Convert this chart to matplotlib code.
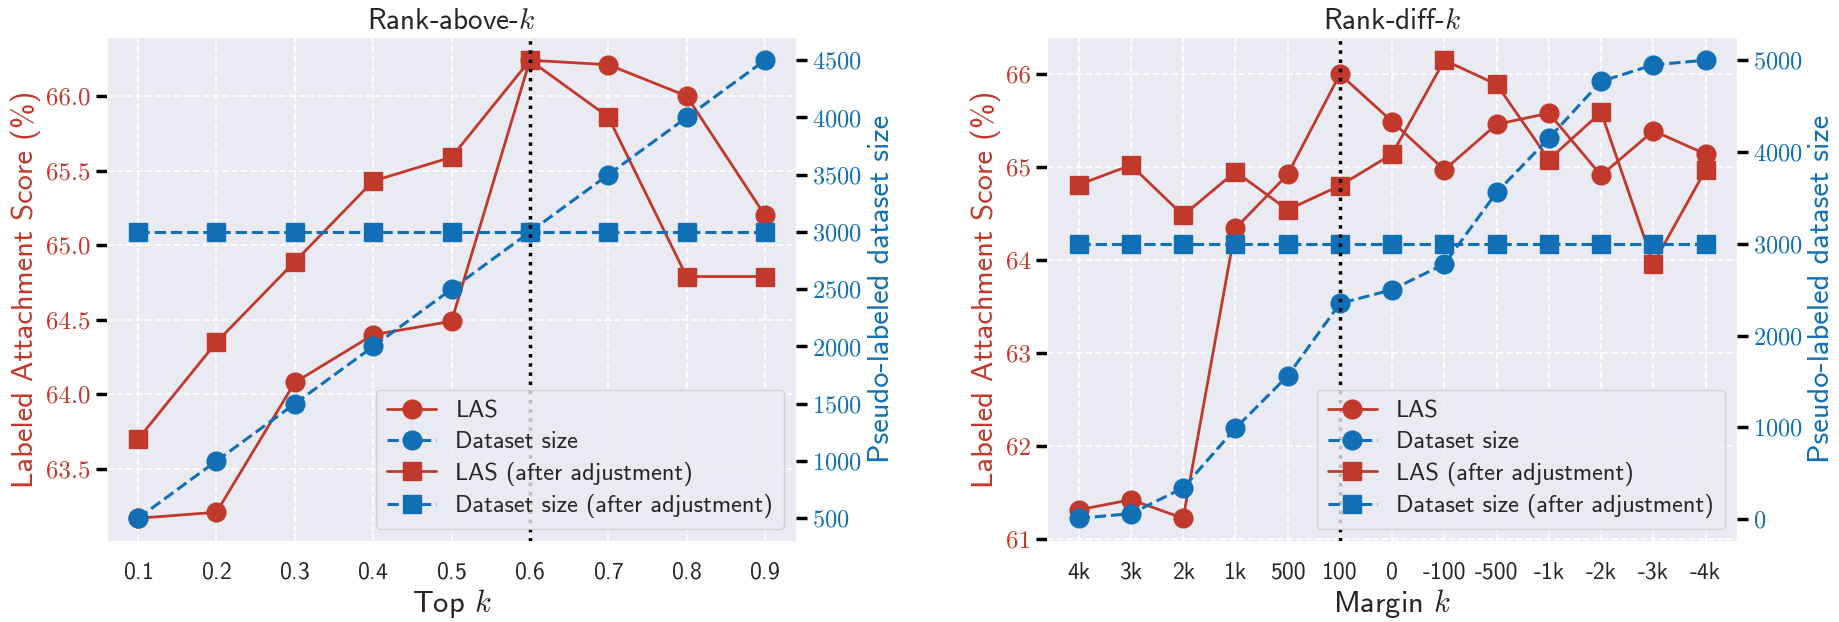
import matplotlib
matplotlib.use("Agg")
import matplotlib.pyplot as plt
import seaborn as sns
from matplotlib.ticker import MultipleLocator

# Rank-above-k
top_k = [0.1, 0.2, 0.3, 0.4, 0.5, 0.6, 0.7, 0.8, 0.9]
above_las = [63.17, 63.21, 64.08, 64.40, 64.49, 66.24, 66.21, 66.00, 65.20]
above_las_adj = [63.70, 64.35, 64.89, 65.43, 65.59, 66.24, 65.86, 64.79, 64.79]
above_size = [500, 1000, 1500, 2000, 2500, 3000, 3500, 4000, 4500]
above_size_adj = [3000, 3000, 3000, 3000, 3000, 3000, 3000, 3000, 3000]
above_best = 0.6

# Rank-diff-k
margin_k = ["4k", "3k", "2k", "1k", "500", "100", "0", "-100", "-500", "-1k", "-2k", "-3k", "-4k"]
diff_las = [61.31, 61.42, 61.22, 64.34, 64.92, 66.00, 65.49, 64.97, 65.46, 65.58, 64.91, 65.39, 65.14]
diff_las_adj = [64.81, 65.02, 64.48, 64.95, 64.54, 64.80, 65.14, 66.15, 65.89, 65.08, 65.59, 63.96, 64.97]
diff_size = [10, 60, 340, 990, 1560, 2350, 2500, 2780, 3560, 4150, 4770, 4950, 5000]
diff_size_adj = [3000] * 13
diff_best = "100"

RED = "#c0392b"
BLUE = "#1170b5"

sns.set_style("darkgrid", {"grid.linestyle": "--"})
plt.rcParams["font.family"] = ["cmss10", "DejaVu Sans"]
plt.rcParams["mathtext.fontset"] = "cm"
plt.rcParams["axes.unicode_minus"] = False
plt.rcParams["axes.formatter.use_mathtext"] = True


def draw(ax, x, las, las_adj, size, size_adj, best, title, xlabel, size_step, las_step, las_fmt):
    ax2 = ax.twinx()
    ax2.grid(False)
    l1, = ax.plot(x, las, color=RED, marker="o", ms=13.5, lw=2, label="LAS")
    l3, = ax.plot(x, las_adj, color=RED, marker="s", ms=13.5, lw=2, label="LAS (after adjustment)")
    l2, = ax2.plot(x, size, color=BLUE, marker="o", ms=13.5, lw=2.2, ls="--", label="Dataset size")
    l4, = ax2.plot(x, size_adj, color=BLUE, marker="s", ms=13.5, lw=2.2, ls="--",
                   label="Dataset size (after adjustment)")
    ax2.axvline(best, color="black", ls=":", lw=2.5)

    ax.grid(True, color="white", ls="--", lw=1.3)
    ax.yaxis.set_major_locator(MultipleLocator(las_step))
    ax2.yaxis.set_major_locator(MultipleLocator(size_step))
    ax.yaxis.set_major_formatter(plt.FuncFormatter(lambda v, p: las_fmt.format(v)))
    ax.tick_params(axis="y", colors=RED, labelsize=18, length=8, width=2.5,
                   labelfontfamily="cmr10")
    ax.tick_params(axis="y", color="black")
    ax2.tick_params(axis="y", colors=BLUE, labelsize=17.5, length=8, width=2.5,
                    labelfontfamily="cmr10")
    ax2.tick_params(axis="y", color="black")
    ax.tick_params(axis="x", labelsize=17, length=0, pad=15)
    for s in ax2.spines.values():
        s.set_visible(False)

    ax.set_ylabel("Labeled Attachment Score (%)", color=RED, fontsize=22)
    ax2.set_ylabel("Pseudo-labeled dataset size", color=BLUE, fontsize=22)
    ax.set_xlabel(xlabel, fontsize=22, labelpad=2)
    ax.set_title(title, fontsize=21)
    ax2.legend([l1, l2, l3, l4], [h.get_label() for h in [l1, l2, l3, l4]],
               loc="lower right", fontsize=17.5, frameon=True, framealpha=0.8,
               labelspacing=0.35, borderpad=0.45)
    return ax2


fig, (ax_a, ax_b) = plt.subplots(1, 2, figsize=(18.4, 6.22), dpi=100)
fig.subplots_adjust(left=0.058, right=0.944, bottom=0.13, top=0.94, wspace=0.364)

draw(ax_a, top_k, above_las, above_las_adj, above_size, above_size_adj, above_best,
     "Rank-above-$k$", "Top $k$", 500, 0.5, "{:.1f}")
ax_a.set_xticks(top_k)

draw(ax_b, margin_k, diff_las, diff_las_adj, diff_size, diff_size_adj, diff_best,
     "Rank-diff-$k$", "Margin $k$", 1000, 1, "{:.0f}")

fig.savefig("out.png", dpi=100)
